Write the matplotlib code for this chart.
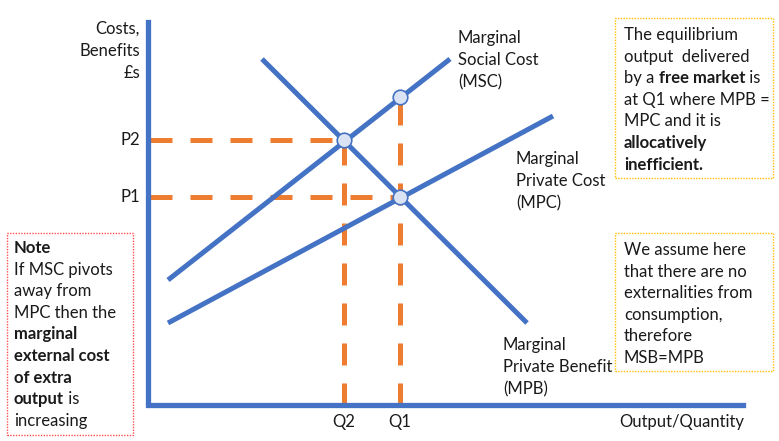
import matplotlib
matplotlib.use("Agg")
import matplotlib.pyplot as plt
from matplotlib.patches import Rectangle

plt.rcParams['font.family'] = ['Lato', 'DejaVu Sans']

BLUE = '#4472C4'
ORANGE = '#ED7D31'
TXT = '#1a1a1a'

# curve end points (quantity, price) in diagram units, origin at axes corner
msc_q = [20, 302]
msc_p = [125, 346]
mpc_q = [20, 405]
mpc_p = [82, 289]
mpb_q = [114, 379]
mpb_p = [346, 82]

# equilibrium points
q_vals = [196, 252]
q_labels = ['Q2', 'Q1']
p_vals = [265, 208]
p_labels = ['P2', 'P1']
dot_q = [196, 252, 252]
dot_p = [265, 308, 208]

fig = plt.figure(figsize=(7.79, 4.41), dpi=100)
ax = fig.add_axes([0, 0, 1, 1])
ax.set_xlim(-148, 631)
ax.set_ylim(-36, 405)
ax.axis('off')

# dashed guides
for q, p in zip(q_vals, [265, 308]):
    ax.plot([q, q], [0, p], color=ORANGE, lw=3.6, dashes=(4.4, 3.6), zorder=2)
for p, q in zip(p_vals, q_vals):
    ax.plot([2, q], [p, p], color=ORANGE, lw=3.6, dashes=(4.4, 3.6), zorder=2)

# axes
ax.plot([0, 0, 595], [383, 0, 0], color=BLUE, lw=3.8, solid_joinstyle='miter', zorder=3)

# curves
for xs, ys in [(msc_q, msc_p), (mpc_q, mpc_p), (mpb_q, mpb_p)]:
    ax.plot(xs, ys, color=BLUE, lw=3.6, solid_capstyle='butt', zorder=3)

ax.scatter(dot_q, dot_p, s=110, color='#DAE3F3', edgecolor=BLUE, linewidth=1.2, zorder=4)

fs = 12
ls = 1.48
ax.text(-8, 384, 'Costs,\nBenefits\n£s', ha='right', va='top', fontsize=fs, color=TXT,
        linespacing=ls)
for p, lab in zip(p_vals, p_labels):
    ax.text(-8, p, lab, ha='right', va='center', fontsize=fs, color=TXT)
for q, lab in zip(q_vals, q_labels):
    ax.text(q, -17, lab, ha='center', va='center', fontsize=fs, color=TXT)
ax.text(534, -17, 'Output/Quantity', ha='center', va='center', fontsize=fs, color=TXT)

ax.text(310, 375, 'Marginal\nSocial Cost\n(MSC)', ha='left', va='top', fontsize=fs,
        color=TXT, linespacing=ls)
ax.text(368, 254, 'Marginal\nPrivate Cost\n(MPC)', ha='left', va='top', fontsize=fs,
        color=TXT, linespacing=ls)
ax.text(355, 68, 'Marginal\nPrivate Benefit\n(MPB)', ha='left', va='top', fontsize=fs,
        color=TXT, linespacing=ls)


def rich_lines(x, y, lines, step=21.6):
    # each line is a list of (text, bold) runs
    for i, runs in enumerate(lines):
        prev = None
        for txt, bold in runs:
            w = 'bold' if bold else 'normal'
            if prev is None:
                prev = ax.text(x, y - i * step, txt, ha='left', va='baseline',
                               fontsize=fs, color=TXT, fontweight=w)
            else:
                prev = ax.annotate(txt, xy=(1, 0), xycoords=prev, ha='left', va='bottom',
                                   fontsize=fs, color=TXT, fontweight=w)


# boxes
ax.add_patch(Rectangle((467, 227), 158, 160, fill=False, ec='#FFC000', lw=1.0,
                       ls=(0, (1, 1))))
ax.add_patch(Rectangle((467, 34), 158, 138, fill=False, ec='#FFC000', lw=1.0,
                       ls=(0, (1, 1))))
ax.add_patch(Rectangle((-141, -30), 126, 202, fill=False, ec='#FF5050', lw=1.0,
                       ls=(0, (1, 1))))

rich_lines(476, 365, [
    [('The equilibrium', False)],
    [('output  delivered', False)],
    [('by a ', False), ('free market', True), (' is', False)],
    [('at Q1 where MPB =', False)],
    [('MPC and it is', False)],
    [('allocatively', True)],
    [('inefficient.', True)],
])
rich_lines(476, 150, [
    [('We assume here', False)],
    [('that there are no', False)],
    [('externalities from', False)],
    [('consumption,', False)],
    [('therefore', False)],
    [('MSB=MPB', False)],
])
rich_lines(-134, 152, [
    [('Note', True)],
    [('If MSC pivots', False)],
    [('away from', False)],
    [('MPC then the', False)],
    [('marginal', True)],
    [('external cost', True)],
    [('of extra', True)],
    [('output', True), (' is', False)],
    [('increasing', False)],
])

fig.savefig('out.png', dpi=100)
